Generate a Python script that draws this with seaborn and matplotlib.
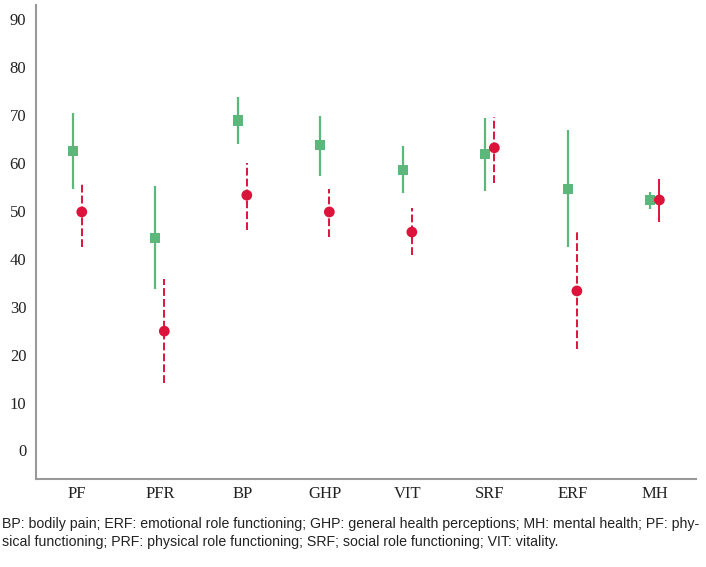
import numpy as np
import pandas as pd
import matplotlib
matplotlib.use("Agg")
import matplotlib.pyplot as plt
import seaborn as sns
from matplotlib import font_manager

domains = ["PF", "PFR", "BP", "GHP", "VIT", "SRF", "ERF", "MH"]
green_mean = [62.6, 44.4, 68.9, 63.8, 58.6, 61.9, 54.6, 52.3]
green_low = [54.6, 33.7, 64.0, 57.3, 53.7, 54.2, 42.4, 50.5]
green_high = [70.5, 55.2, 73.9, 69.9, 63.6, 69.5, 66.9, 54.0]
red_mean = [49.8, 24.9, 53.3, 49.8, 45.6, 63.2, 33.3, 52.3]
red_low = [42.4, 14.0, 46.0, 44.6, 40.8, 55.9, 21.1, 47.7]
red_high = [56.1, 35.8, 60.0, 54.6, 50.6, 69.7, 45.6, 56.7]
yticks = [0, 10, 20, 30, 40, 50, 60, 70, 80, 90]
caption = ("BP: bodily pain; ERF: emotional role functioning; GHP: general health perceptions; MH: mental health; PF: phy-\n"
           "sical functioning; PRF: physical role functioning; SRF; social role functioning; VIT: vitality.")

GREEN = "#5cb87a"
RED = "#dc143c"

sns.set_style("white")
names = {f.name for f in font_manager.fontManager.ttflist}
serif = "Liberation Serif" if "Liberation Serif" in names else "DejaVu Serif"
narrow = "Liberation Sans Narrow" if "Liberation Sans Narrow" in names else "Liberation Sans"

df = pd.DataFrame({"domain": domains, "g": green_mean, "gl": green_low, "gh": green_high,
                   "r": red_mean, "rl": red_low, "rh": red_high})
df["pos"] = np.arange(len(domains))
off = 0.055

fig = plt.figure(figsize=(7.06, 5.67), dpi=100)
ax = fig.add_axes([0.051, 0.155, 0.935, 0.836])

ax.vlines(df["pos"] - off, df["gl"], df["gh"], color=GREEN, lw=1.6, zorder=2)
for i, row in df.iterrows():
    ls = "-" if row["domain"] == "MH" else (0, (4, 1.6))
    ax.vlines(row["pos"] + off, row["rl"], row["rh"], color=RED, lw=1.4,
              linestyles=[ls], zorder=2)

sns.scatterplot(x=df["pos"] - off, y=df["g"], marker="s", s=55, color=GREEN,
                edgecolor="none", ax=ax, zorder=3)
sns.scatterplot(x=df["pos"] + off, y=df["r"], marker="o", s=60, color=RED,
                edgecolor="none", ax=ax, zorder=3)

ax.set_xlim(-0.5, len(domains) - 0.5)
ax.set_ylim(-6, 93)
ax.set_xticks(df["pos"])
ax.set_xticklabels(domains, family=serif, fontsize=12)
ax.set_yticks(yticks)
ax.set_yticklabels([str(t) for t in yticks], family=serif, fontsize=12)
ax.tick_params(axis="y", length=0, pad=7, colors="#222222")
ax.tick_params(axis="x", length=0, pad=5, colors="#222222")
ax.set_xlabel("")
ax.set_ylabel("")
sns.despine(ax=ax)
for s in ["left", "bottom"]:
    ax.spines[s].set_color("#999999")
    ax.spines[s].set_linewidth(1.5)

fig.text(0.003, 0.06, caption, family=[narrow, "DejaVu Sans"], fontsize=10.2,
         color="#222222", va="center", ha="left", linespacing=1.35)

fig.savefig("out.png", dpi=100)
